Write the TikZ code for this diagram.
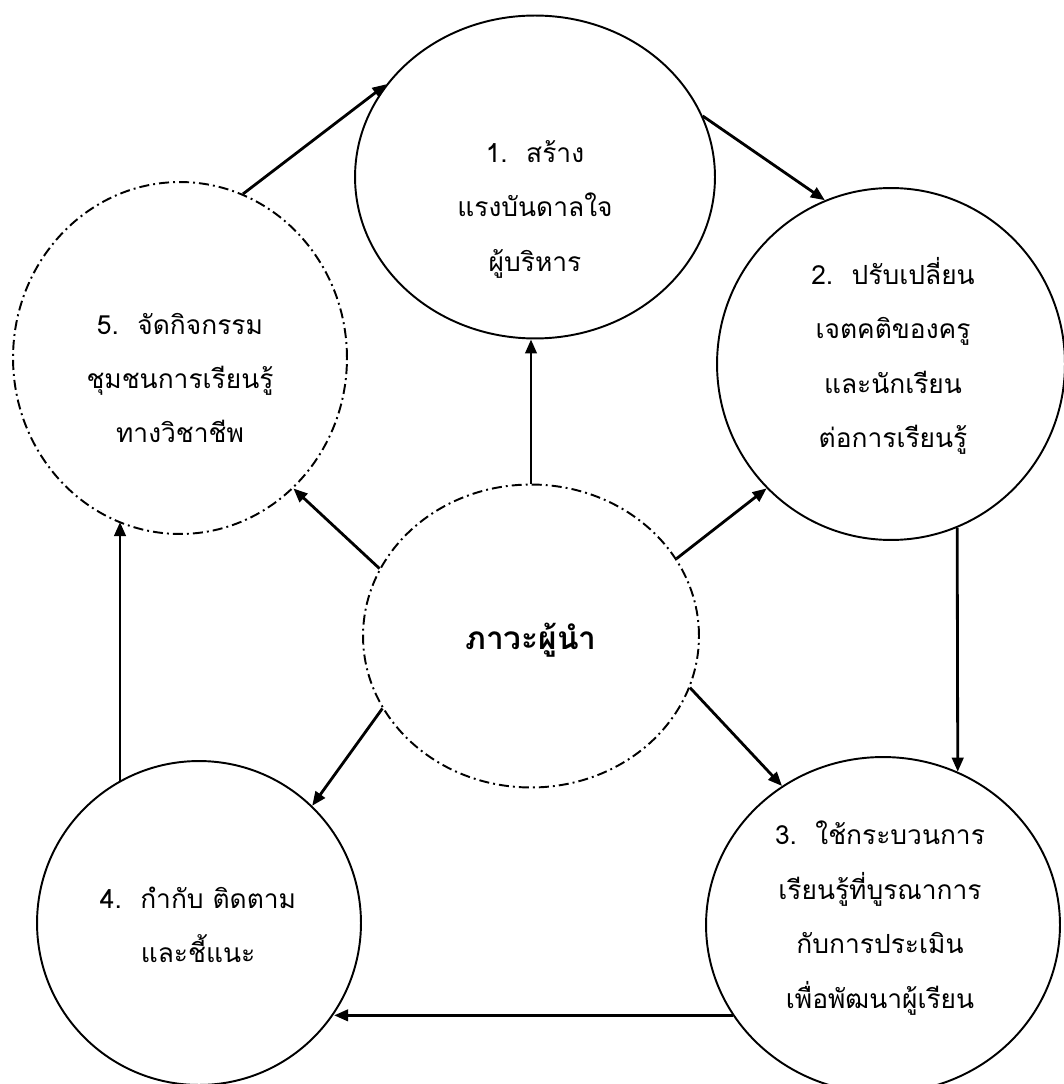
\documentclass[tikz,border=0pt]{standalone}
\usepackage{fontspec}
\newfontfamily\thaifont[Script=Thai]{Loma}
\usetikzlibrary{shapes.geometric,arrows.meta,positioning}

\begin{document}
\begin{tikzpicture}[x=0.02cm, y=-0.02cm,
    font=\thaifont\fontsize{15}{31}\selectfont,
    solidring/.style={draw, ellipse, line width=1.1pt, inner sep=0pt},
    dashring/.style={solidring, dash pattern=on 5.7pt off 2.3pt on 1.1pt off 2.3pt},
    arr/.style={-{Triangle[length=8pt,width=6.5pt]}, line width=1.6pt},
    txt/.style={align=center}]
    \useasboundingbox (0,0) rectangle (1063,1084);

    % rings
    \node[solidring, minimum width=7.2cm, minimum height=6.46cm] (c1) at (535,177) {};
    \node[solidring, minimum width=6.96cm, minimum height=7.04cm] (c2) at (891,364) {};
    \node[solidring, minimum width=7.08cm, minimum height=6.72cm] (c3) at (883,925) {};
    \node[solidring, minimum width=6.48cm, minimum height=6.48cm] (c4) at (199,923) {};
    \node[dashring, minimum width=6.68cm, minimum height=7.04cm] (c5) at (180,358) {};
    \node[dashring, minimum width=6.72cm, minimum height=6.06cm] (ctr) at (531,636) {};

    % texts
    \node[txt] (t1) at (535,209) {1.\hspace{0.7em}สร้าง\\แรงบันดาลใจ\\ผู้บริหาร};
    \node[txt] (t2) at (893,356) {2.\hspace{0.7em}ปรับเปลี่ยน\\เจตคติของครู\\และนักเรียน\\ต่อการเรียนรู้};
    \node[txt] (t3) at (880,918) {3.\hspace{0.7em}ใช้กระบวนการ\\เรียนรู้ที่บูรณาการ\\กับการประเมิน\\เพื่อพัฒนาผู้เรียน};
    \node[txt] (t4) at (198,925) {4.\hspace{0.7em}กำกับ ติดตาม\\และชี้แนะ};
    \node[txt] (t5) at (180,378) {5.\hspace{0.7em}จัดกิจกรรม\\ชุมชนการเรียนรู้\\ทางวิชาชีพ};
    \node[font=\thaifont\bfseries\fontsize{18}{22}\selectfont] (tc) at (531,640) {ภาวะผู้นำ};

    % from the centre
    \draw[arr] (ctr.north) -- (ctr.north |- c1.south);
    \draw[arr] (ctr.28) -- (c2.225.5);
    \draw[arr] (ctr.-18.4) -- (c3.126.3);
    \draw[arr] (ctr.206.4) -- (c4.46.5);
    \draw[arr] (ctr.156.5) -- (c5.-49.5);

    % the cycle
    \draw[arr] (c5.69.4) -- (c1.148.6);
    \draw[arr] (c1.20.4) -- (c2.112.8);
    \draw[arr] (c2.-68) -- (c3.64);
    \draw[arr] (c3.211) -- (c3.211 -| c4.-34.5);
    \draw[arr] (c4.119.4) -- (c4.119.4 |- c5.249);
\end{tikzpicture}
\end{document}
